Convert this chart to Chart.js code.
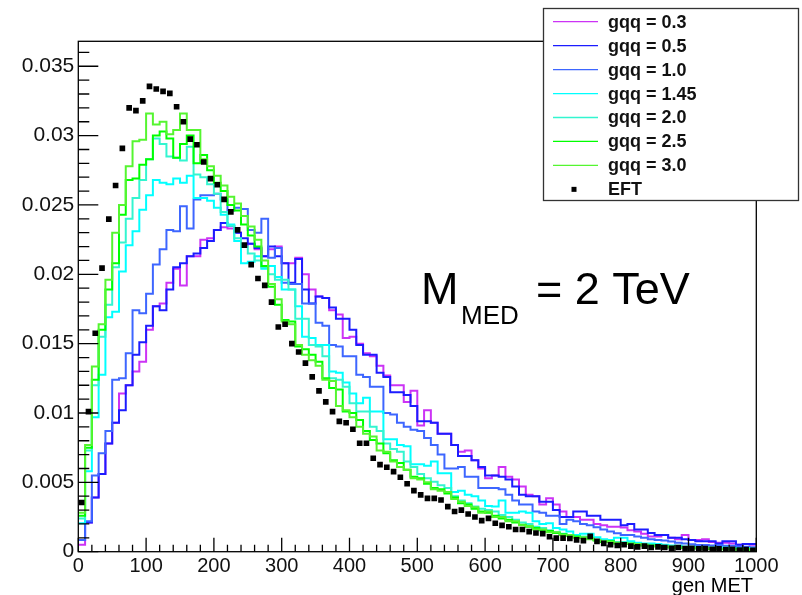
<!DOCTYPE html>
<html>
<head>
<meta charset="utf-8">
<script src="https://cdn.jsdelivr.net/npm/chart.js@4.4.1/dist/chart.umd.min.js"></script>
<style>
  html, body { margin: 0; padding: 0; background: #fff; }
  #wrap { width: 802px; height: 595px; position: relative; }
</style>
</head>
<body>
<div id="wrap"><canvas id="metChart"></canvas></div>
<script>
// gen MET histograms: 100 bins of 10 from 0 to 1000, values read in units of 0.001
const BIN_WIDTH = 10;
const X_MIN = 0, X_MAX = 1000;
const Y_MAX = 0.0368;
const UNIT = 0.001;

const seriesNames = ["gqq = 0.3", "gqq = 0.5", "gqq = 1.0", "gqq = 1.45", "gqq = 2.0", "gqq = 2.5", "gqq = 3.0", "EFT"];
const seriesColors = ["#cc33f5", "#1c1cff", "#3d66ff", "#00ffff", "#33f5d0", "#00ff00", "#55f530", "#000000"];

const g03 = [
  0.5, 2.1, 3.9, 5.6, 7.8, 9.3, 11.4, 12.0, 13.0, 13.7,
  16.0, 17.7, 17.9, 19.4, 20.4, 19.2, 21.3, 21.3, 22.5, 22.6,
  23.2, 23.4, 23.3, 23.0, 22.1, 22.2, 21.8, 21.3, 21.8, 22.0,
  20.8, 20.8, 21.2, 20.0, 18.9, 18.4, 18.3, 17.4, 17.1, 15.4,
  15.5, 15.0, 14.3, 14.1, 13.4, 12.7, 12.0, 12.0, 10.8, 11.6,
  9.1, 10.2, 9.3, 8.5, 8.5, 7.7, 7.2, 7.3, 6.6, 6.0,
  5.3, 5.5, 6.1, 5.4, 5.2, 4.7, 4.1, 4.0, 3.4, 3.85,
  3.4, 2.9, 2.5, 2.5, 2.3, 2.3, 2.0, 1.9, 1.8, 1.8,
  1.75, 1.55, 1.45, 1.3, 1.1, 1.1, 1.2, 1.0, 0.9, 1.2,
  0.85, 0.85, 0.9, 0.7, 0.65, 0.65, 0.6, 0.5, 0.55, 0.5
];
const g05 = [
  0.85, 2.1, 3.9, 5.6, 7.8, 9.3, 10.2, 12.0, 14.2, 15.1,
  16.3, 17.7, 17.4, 18.9, 20.5, 20.8, 21.3, 21.5, 21.9, 22.4,
  23.2, 23.7, 23.5, 23.0, 22.6, 22.2, 21.9, 21.3, 22.0, 21.3,
  20.8, 19.4, 21.1, 18.9, 17.9, 18.4, 18.3, 17.6, 16.8, 16.8,
  16.0, 14.9, 14.2, 14.2, 12.9, 12.6, 11.5, 11.5, 11.3, 10.5,
  9.4, 9.4, 9.3, 8.5, 8.5, 7.7, 6.9, 6.9, 6.6, 6.1,
  5.5, 5.5, 5.4, 5.2, 4.7, 4.1, 4.0, 4.0, 3.6, 3.6,
  3.0, 2.5, 2.5, 2.9, 2.9, 2.6, 2.6, 2.3, 2.3, 2.3,
  1.9, 2.0, 1.6, 1.6, 1.35, 1.2, 1.2, 1.0, 1.0, 0.9,
  0.85, 0.75, 0.75, 0.75, 0.6, 0.75, 0.75, 0.5, 0.55, 0.55
];
const g10 = [
  0.85, 2.2, 5.5, 7.1, 8.7, 12.4, 12.5, 14.3, 17.4, 17.2,
  18.6, 20.7, 21.8, 23.2, 23.1, 24.9, 23.3, 25.4, 25.7, 25.7,
  25.8, 25.4, 24.6, 24.8, 24.7, 23.2, 23.0, 24.0, 21.2, 21.9,
  19.4, 19.3, 19.3, 17.9, 17.9, 16.5, 16.3, 14.9, 14.8, 14.1,
  14.1, 12.75, 12.6, 11.9, 11.9, 10.0, 9.9, 9.3, 9.0, 8.8,
  8.7, 8.2, 7.7, 7.0, 6.0, 6.0, 6.1, 5.4, 5.4, 4.6,
  4.6, 4.6, 4.5, 4.1, 3.7, 3.4, 3.4, 2.9, 2.8, 2.6,
  2.6, 2.0, 2.3, 2.2, 2.0, 1.9, 1.76, 1.6, 1.45, 1.33,
  1.2, 1.2, 1.1, 1.0, 0.9, 0.85, 0.8, 0.73, 0.65, 0.6,
  0.53, 0.48, 0.48, 0.44, 0.48, 0.42, 0.42, 0.36, 0.36, 0.32
];
const g145 = [
  2.05, 5.8, 9.7, 12.75, 16.9, 17.3, 20.2, 22.1, 23.1, 24.65,
  25.7, 26.8, 26.6, 26.5, 26.9, 26.6, 27.1, 25.5, 25.5, 25.3,
  24.8, 24.3, 23.6, 22.4, 20.8, 20.9, 21.3, 20.4, 20.6, 19.8,
  18.9, 18.9, 17.7, 15.5, 15.4, 14.9, 14.9, 13.0, 12.9, 12.2,
  11.4, 10.7, 11.1, 10.1, 10.1, 8.1, 8.1, 7.7, 7.6, 6.3,
  6.3, 6.2, 6.5, 5.65, 5.65, 4.3, 4.4, 4.1, 4.0, 3.7,
  3.3, 3.25, 3.7, 2.8, 2.8, 2.9, 2.8, 2.2, 2.0, 2.05,
  1.7, 1.6, 1.45, 1.2, 1.3, 1.3, 1.04, 0.9, 0.85, 1.0,
  1.0, 0.75, 0.65, 0.6, 0.6, 0.55, 0.5, 0.44, 0.42, 0.36,
  0.36, 0.33, 0.3, 0.3, 0.28, 0.3, 0.26, 0.24, 0.24, 0.22
];
const g20 = [
  2.4, 7.3, 12.0, 15.5, 17.8, 20.5, 22.3, 24.0, 25.5, 26.8,
  28.3, 29.8, 29.4, 28.5, 28.4, 28.2, 29.2, 27.2, 27.0, 26.5,
  25.8, 24.5, 23.5, 22.6, 22.0, 21.5, 21.0, 20.5, 20.0, 19.6,
  19.6, 18.9, 16.8, 16.8, 14.9, 14.8, 14.1, 12.5, 12.4, 11.9,
  10.7, 10.1, 10.1, 9.0, 8.7, 7.8, 7.4, 7.2, 6.5, 6.1,
  5.6, 5.3, 5.05, 4.8, 4.6, 4.0, 3.7, 3.5, 3.25, 3.1,
  3.0, 2.9, 2.65, 2.5, 2.3, 2.1, 2.0, 1.8, 1.7, 1.55,
  1.4, 1.3, 1.2, 1.1, 1.1, 1.05, 0.85, 0.8, 0.75, 0.7,
  0.7, 0.6, 0.55, 0.55, 0.5, 0.45, 0.45, 0.4, 0.38, 0.35,
  0.3, 0.3, 0.28, 0.25, 0.25, 0.22, 0.2, 0.2, 0.18, 0.18
];
const g25 = [
  2.6, 7.5, 12.4, 16.0, 18.9, 20.8, 24.3, 26.8, 26.9, 27.9,
  28.3, 30.0, 30.3, 29.8, 28.4, 29.4, 30.0, 28.0, 28.6, 27.5,
  26.6, 26.0, 25.0, 24.6, 23.6, 22.8, 22.0, 20.6, 19.1, 17.8,
  16.7, 16.6, 14.8, 14.6, 14.2, 13.7, 12.5, 11.8, 11.7, 10.1,
  10.0, 9.5, 8.7, 8.06, 7.8, 7.1, 6.6, 6.4, 5.9, 5.4,
  5.3, 4.9, 4.6, 4.5, 4.2, 3.9, 3.5, 3.4, 3.1, 2.9,
  2.8, 2.6, 2.4, 2.3, 2.1, 1.95, 1.8, 1.7, 1.55, 1.5,
  1.35, 1.25, 1.15, 1.1, 1.0, 0.95, 0.8, 0.7, 0.75, 0.6,
  0.55, 0.6, 0.5, 0.45, 0.45, 0.4, 0.35, 0.3, 0.3, 0.28,
  0.25, 0.25, 0.22, 0.2, 0.2, 0.18, 0.16, 0.15, 0.15, 0.12
];
const g30 = [
  2.8, 7.7, 13.35, 16.4, 19.6, 23.0, 25.0, 27.8, 29.6, 29.7,
  31.6, 30.8, 31.0, 30.1, 30.4, 31.6, 30.4, 30.4, 28.3, 27.8,
  27.1, 26.4, 25.6, 25.1, 24.2, 23.45, 22.5, 21.0, 19.3, 18.2,
  16.6, 16.4, 14.9, 14.2, 13.8, 13.4, 12.4, 12.3, 10.5, 10.2,
  9.7, 9.0, 8.5, 8.3, 7.3, 7.2, 6.5, 6.1, 5.9, 5.3,
  5.2, 5.0, 4.5, 4.4, 4.3, 3.8, 3.6, 3.3, 3.2, 2.8,
  2.9, 2.5, 2.5, 2.2, 2.2, 1.9, 1.85, 1.6, 1.6, 1.4,
  1.4, 1.2, 1.2, 1.0, 1.05, 0.9, 0.85, 0.75, 0.7, 0.65,
  0.6, 0.55, 0.55, 0.5, 0.4, 0.42, 0.38, 0.35, 0.3, 0.3,
  0.28, 0.25, 0.25, 0.22, 0.2, 0.2, 0.18, 0.16, 0.15, 0.14
];
const eft = [
  3.55, 10.1, 15.75, 20.45, 23.98, 26.4, 29.08, 32.0, 31.8, 32.5,
  33.55, 33.36, 33.19, 33.05, 32.08, 31.0, 29.75, 29.34, 28.1, 26.9,
  26.46, 25.4, 24.5, 23.2, 22.1, 20.7, 19.7, 19.2, 18.0, 16.2,
  16.4, 15.0, 14.4, 13.6, 12.6, 11.6, 10.8, 10.1, 9.4, 9.3,
  8.83, 7.82, 7.82, 6.74, 6.28, 6.09, 5.77, 5.37, 4.9, 4.4,
  4.1, 3.85, 3.85, 3.73, 3.25, 2.9, 3.0, 2.72, 2.5, 2.24,
  2.4, 2.05, 1.9, 1.8, 1.6, 1.6, 1.45, 1.35, 1.3, 1.08,
  0.98, 0.98, 0.95, 0.85, 0.8, 1.1, 0.75, 0.6, 0.5, 0.45,
  0.5, 0.4, 0.35, 0.4, 0.3, 0.35, 0.3, 0.25, 0.3, 0.22,
  0.25, 0.2, 0.22, 0.18, 0.2, 0.15, 0.17, 0.12, 0.15, 0.1
];

const histValues = [g03, g05, g10, g145, g20, g25, g30];
const FONT = "'Liberation Sans', Arial, Helvetica, sans-serif";

// step outline: one point per lower bin edge plus the closing edge
function histPoints(vals) {
  const pts = vals.map((v, i) => ({ x: X_MIN + i * BIN_WIDTH, y: v * UNIT }));
  pts.push({ x: X_MIN + vals.length * BIN_WIDTH, y: vals[vals.length - 1] * UNIT });
  return pts;
}

const datasets = histValues.map((vals, i) => ({
  label: seriesNames[i],
  data: histPoints(vals),
  borderColor: seriesColors[i],
  borderWidth: 2,
  stepped: "before",
  pointRadius: 0,
  fill: false,
  order: histValues.length - i
}));
datasets.push({
  label: seriesNames[7],
  data: eft.map((v, i) => ({ x: X_MIN + (i + 0.5) * BIN_WIDTH, y: v * UNIT })),
  showLine: false,
  pointStyle: "rect",
  pointRadius: 4,
  pointBackgroundColor: "#000",
  pointBorderWidth: 0,
  borderColor: "#000",
  order: 0
});

const rootStyle = {
  id: "rootStyle",
  beforeDraw(chart) {
    const ctx = chart.ctx;
    ctx.save();
    ctx.fillStyle = "#fff";
    ctx.fillRect(0, 0, chart.width, chart.height);
    ctx.restore();
  },
  afterDatasetsDraw(chart) {
    const { ctx, chartArea: a, scales: { x, y } } = chart;
    ctx.save();
    ctx.strokeStyle = "#000";
    ctx.lineWidth = 1.3;
    ctx.strokeRect(a.left, a.top, a.right - a.left, a.bottom - a.top);
    ctx.beginPath();
    for (let v = X_MIN; v <= X_MAX; v += 20) {
      const px = x.getPixelForValue(v);
      const len = v % 100 === 0 ? 14 : 7;
      ctx.moveTo(px, a.bottom);
      ctx.lineTo(px, a.bottom - len);
    }
    for (let k = 0; k <= 36; k++) {
      const py = y.getPixelForValue(k * 0.001);
      const len = k % 5 === 0 ? 20 : 11;
      ctx.moveTo(a.left, py);
      ctx.lineTo(a.left + len, py);
    }
    ctx.stroke();
    ctx.restore();
  },
  afterDraw(chart) {
    const ctx = chart.ctx;
    ctx.save();
    // annotation
    ctx.fillStyle = "#000";
    ctx.textBaseline = "alphabetic";
    ctx.textAlign = "left";
    ctx.font = "45px " + FONT;
    ctx.fillText("M", 421, 304);
    ctx.font = "26px " + FONT;
    ctx.fillText("MED", 461, 324);
    ctx.font = "45px " + FONT;
    ctx.fillText("= 2 TeV", 536, 304);

    // axis title
    ctx.font = "20px " + FONT;
    ctx.textAlign = "right";
    ctx.fillText("gen MET", 753, 592);

    // legend box
    const bx = 543.5, by = 8.5, bw = 255, bh = 192;
    ctx.fillStyle = "#fff";
    ctx.fillRect(bx, by, bw, bh);
    ctx.strokeStyle = "#333";
    ctx.lineWidth = 1.3;
    ctx.strokeRect(bx, by, bw, bh);
    ctx.font = "bold 18px " + FONT;
    ctx.textAlign = "left";
    ctx.textBaseline = "middle";
    chart.data.datasets.forEach((ds, i) => {
      const cy = 21.7 + i * 23.95;
      if (ds.showLine === false) {
        ctx.fillStyle = "#000";
        ctx.fillRect(571.5, cy - 2.5, 5, 5);
      } else {
        ctx.strokeStyle = ds.borderColor;
        ctx.lineWidth = 1.3;
        ctx.beginPath();
        ctx.moveTo(553, cy);
        ctx.lineTo(598, cy);
        ctx.stroke();
      }
      ctx.fillStyle = "#111";
      ctx.fillText(ds.label, 608, cy + 1);
    });
    ctx.restore();
  }
};

new Chart(document.getElementById("metChart"), {
  type: "line",
  data: { datasets },
  plugins: [rootStyle],
  options: {
    responsive: true,
    maintainAspectRatio: false,
    animation: false,
    layout: { padding: { left: 0, top: 41.3, right: 45.7, bottom: 0 } },
    plugins: { legend: { display: false }, tooltip: { enabled: false } },
    scales: {
      x: {
        type: "linear",
        min: X_MIN,
        max: X_MAX,
        grid: { display: false, drawTicks: false },
        border: { display: false },
        ticks: {
          stepSize: 100,
          includeBounds: false,
          padding: 3,
          maxRotation: 0,
          color: "#111",
          font: { family: FONT, size: 20 },
          callback: v => String(v)
        },
        afterFit(scale) { scale.height = 43.3; }
      },
      y: {
        type: "linear",
        min: 0,
        max: Y_MAX,
        grid: { display: false, drawTicks: false },
        border: { display: false },
        ticks: {
          stepSize: 0.005,
          includeBounds: false,
          padding: 4,
          color: "#111",
          font: { family: FONT, size: 21 },
          callback: v => String(parseFloat(v.toFixed(3)))
        },
        afterFit(scale) { scale.width = 78.3; }
      }
    }
  }
});
</script>
</body>
</html>
